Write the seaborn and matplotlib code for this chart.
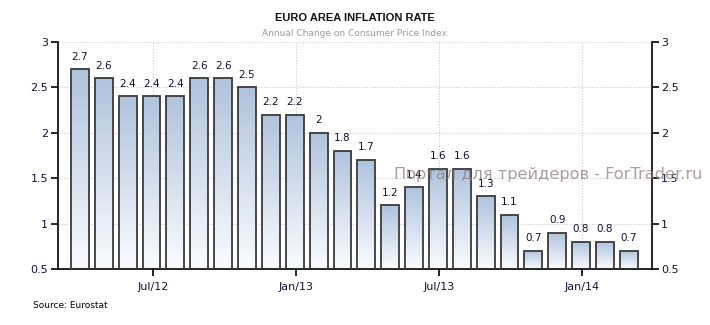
import numpy as np
import pandas as pd
import matplotlib
matplotlib.use("Agg")
import matplotlib.pyplot as plt
from matplotlib.colors import LinearSegmentedColormap
import seaborn as sns

# Euro area HICP, annual change (%), monthly Mar 2012 - Feb 2014
months = pd.date_range("2012-03-01", "2014-02-01", freq="MS")
inflation = [2.7, 2.6, 2.4, 2.4, 2.4, 2.6, 2.6, 2.5, 2.2, 2.2, 2.0, 1.8,
             1.7, 1.2, 1.4, 1.6, 1.6, 1.3, 1.1, 0.7, 0.9, 0.8, 0.8, 0.7]
tick_months = ["2012-07", "2013-01", "2013-07", "2014-01"]
tick_labels = ["Jul/12", "Jan/13", "Jul/13", "Jan/14"]
y_ticks = [0.5, 1, 1.5, 2, 2.5, 3]
y_tick_labels = ["0.5", "1", "1.5", "2", "2.5", "3"]

df = pd.DataFrame({"month": months.strftime("%Y-%m"), "value": inflation})

sns.set_style("white")
plt.rcParams["font.family"] = ["DejaVu Sans"]

fig = plt.figure(figsize=(7.1, 3.25), dpi=100)
ax = fig.add_axes([58 / 710, 1 - 269 / 325, (651.5 - 58) / 710, (269 - 42) / 325])

sns.barplot(data=df, x="month", y="value", order=list(df["month"]),
            width=0.75, color="#b0c4de", edgecolor="#3a3a3a", linewidth=1.3,
            ax=ax, zorder=3)

# vertical gradient fill for each bar
cmap = LinearSegmentedColormap.from_list("barfill", ["#fafcfe", "#afc3de"])
grad = np.linspace(0, 1, 256).reshape(-1, 1)
for patch in ax.patches:
    x0, w = patch.get_x(), patch.get_width()
    top = patch.get_y() + patch.get_height()
    im = ax.imshow(grad, extent=[x0, x0 + w, 0.5, top], origin="lower",
                   cmap=cmap, aspect="auto", zorder=2.5, interpolation="bilinear")
    im.set_clip_path(patch)
    patch.set_facecolor("none")

# value labels on top of the bars
ax.bar_label(ax.containers[0], labels=[f"{v:g}" for v in inflation],
             padding=5.5, fontsize=7.5, color="#111133", zorder=4)

ax.set_ylim(0.5, 3)
ax.set_xlim(-0.92, 23.95)
ax.set_yticks(y_ticks)
ax.set_yticklabels(y_tick_labels)

# date ticks fall at the start of the month, just after the previous bar
month_index = {m: i for i, m in enumerate(df["month"])}
tick_pos = [month_index[m] - 0.95 for m in tick_months]
ax.set_xticks(tick_pos)
ax.set_xticklabels(tick_labels)
ax.set_xlabel("")
ax.set_ylabel("")

ax.grid(True, axis="both", linestyle=(0, (1, 1.5)), color="#cccccc", linewidth=0.8, zorder=0)
ax.set_axisbelow(True)

for side in ["left", "right", "bottom"]:
    ax.spines[side].set_visible(True)
    ax.spines[side].set_color("black")
    ax.spines[side].set_linewidth(1.2)
ax.spines["top"].set_visible(False)

ax.tick_params(axis="y", which="both", direction="out", length=5, width=1.2,
               left=True, right=True, labelleft=True, labelright=True,
               labelsize=8, labelcolor="#111133", color="black", pad=2)
ax.tick_params(axis="x", direction="out", length=5, width=1.2, bottom=True,
               labelsize=8, labelcolor="#111133", color="black", pad=4)

fig.text(355 / 710, 1 - 18 / 325, "EURO AREA INFLATION RATE", ha="center", va="center",
         fontsize=8, fontweight="bold", color="#111111", family=["Liberation Sans"])
fig.text(355 / 710, 1 - 33 / 325, "Annual Change on Consumer Price Index", ha="center",
         va="center", fontsize=6.5, color="#999999")
fig.text(33 / 710, 1 - 305 / 325, "Source: Eurostat", ha="left", va="center",
         fontsize=6.5, color="black")
fig.text(548 / 710, 1 - 175 / 325, "Портал для трейдеров - ForTrader.ru", ha="center",
         va="center", fontsize=11.6, color="#8a7f7f", alpha=0.75, zorder=10)

fig.savefig("out.png", dpi=100)
